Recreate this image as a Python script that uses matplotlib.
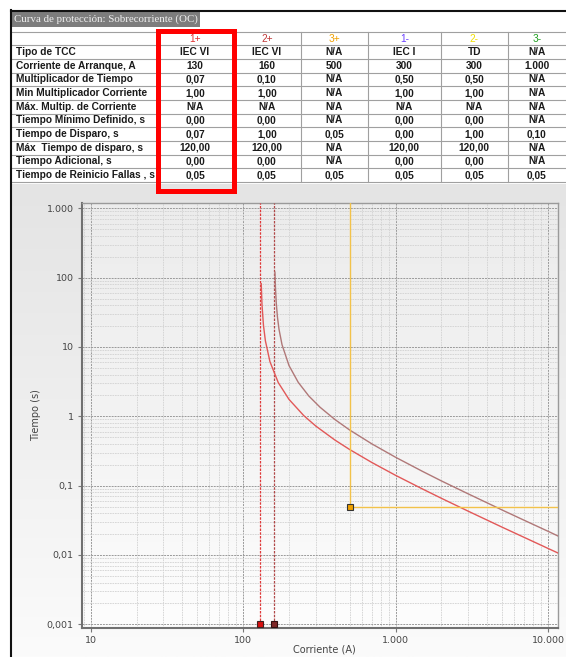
import numpy as np
import matplotlib
matplotlib.use("Agg")
import matplotlib.pyplot as plt
from matplotlib.ticker import LogLocator, FixedLocator, NullFormatter, FixedFormatter
from matplotlib.patches import Rectangle
from matplotlib.colors import LinearSegmentedColormap

# ---------------- data ----------------
col_names = ["1+", "2+", "3+", "1-", "2-", "3-"]
col_colors = ["#e03030", "#c03838", "#f0a000", "#6a40ff", "#f0e000", "#20a020"]
row_labels = ["Tipo de TCC", "Corriente de Arranque, A", "Multiplicador de Tiempo",
              "Min Multiplicador Corriente", "Máx. Multip. de Corriente",
              "Tiempo Mínimo Definido, s", "Tiempo de Disparo, s",
              "Máx  Tiempo de disparo, s", "Tiempo Adicional, s",
              "Tiempo de Reinicio Fallas , s"]
col_1p = ["IEC VI", "130", "0,07", "1,00", "N/A", "0,00", "0,07", "120,00", "0,00", "0,05"]
col_2p = ["IEC VI", "160", "0,10", "1,00", "N/A", "0,00", "1,00", "120,00", "0,00", "0,05"]
col_3p = ["N/A", "500", "N/A", "N/A", "N/A", "N/A", "0,05", "N/A", "N/A", "0,05"]
col_1m = ["IEC I", "300", "0,50", "1,00", "N/A", "0,00", "0,00", "120,00", "0,00", "0,05"]
col_2m = ["TD", "300", "0,50", "1,00", "N/A", "0,00", "1,00", "120,00", "0,00", "0,05"]
col_3m = ["N/A", "1.000", "N/A", "N/A", "N/A", "N/A", "0,10", "N/A", "N/A", "0,05"]
columns = [col_1p, col_2p, col_3p, col_1m, col_2m, col_3m]

# curve 1+ (pickup 130 A)
c1_pickup = 130
c1_I = [131.5, 133, 136, 140, 150, 170, 200, 250, 300, 400, 500, 700, 1000,
        1500, 2000, 3000, 5000, 7000, 10000, 12000]
c1_t = [82, 41, 20.5, 12.3, 6.14, 3.07, 1.755, 1.024, 0.723, 0.455, 0.332, 0.2155,
        0.141, 0.0897, 0.0657, 0.0428, 0.0252, 0.0179, 0.01245, 0.01035]
# curve 2+ (pickup 160 A)
c2_pickup = 160
c2_I = [161.8, 163, 165, 168, 172, 180, 200, 230, 270, 320, 400, 500, 700, 1000,
        1500, 2000, 3000, 5000, 7000, 10000, 12000]
c2_t = [120, 72, 43.2, 27, 18, 10.8, 5.4, 3.09, 1.96, 1.35, 0.9, 0.635, 0.4, 0.257,
        0.161, 0.117, 0.0761, 0.0446, 0.0316, 0.022, 0.0182]
# curve 3+ (definite time)
c3_pickup = 500
c3_time = 0.05

x_ticks = [10, 100, 1000, 10000]
x_ticklabels = ["10", "100", "1.000", "10.000"]
y_ticks = [0.001, 0.01, 0.1, 1, 10, 100, 1000]
y_ticklabels = ["0,001", "0,01", "0,1", "1", "10", "100", "1.000"]

# ---------------- figure ----------------
W, H = 566, 657
fig = plt.figure(figsize=(W / 100, H / 100), dpi=100)
fig.patch.set_facecolor("white")

bg = fig.add_axes([0, 0, 1, 1])
bg.set_xlim(0, W)
bg.set_ylim(H, 0)
bg.axis("off")

# lower panel gradient background
grad = np.linspace(0, 1, 256).reshape(-1, 1)
panel_cmap = LinearSegmentedColormap.from_list("p", ["#e4e4e4", "#efefef", "#fbfbfb"])
bg.imshow(grad, extent=(12, W, H, 184), cmap=panel_cmap, aspect="auto", zorder=0)
bg.set_xlim(0, W)
bg.set_ylim(H, 0)

# borders
bg.plot([11, 11], [10, H], color="#111111", lw=1.5, zorder=5)
bg.plot([11, W], [11, 11], color="#111111", lw=1.5, zorder=5)

# title box
bg.add_patch(Rectangle((12, 12), 188, 15, facecolor="#7d7d7d", edgecolor="none", zorder=3))
bg.text(14, 19.5, "Curva de protección: Sobrecorriente (OC)", fontsize=7.8,
        family="Liberation Serif", color="#f0f0f0", va="center", ha="left", zorder=4)

# table
row_h = 13.65
table_top = 31.7
col_edges = [12, 157, 233, 300.7, 367.7, 441, 507.7, W]
n_rows = len(row_labels) + 1
for i in range(n_rows + 1):
    y = table_top + i * row_h
    bg.plot([12, W], [y, y], color="#a0a0a0", lw=0.8, zorder=2)
y_bottom = table_top + n_rows * row_h
for xe in col_edges[1:-1]:
    bg.plot([xe, xe], [table_top, y_bottom], color="#a0a0a0", lw=0.8, zorder=2)

tfont = dict(family="Liberation Sans", fontsize=7.3, fontweight="bold",
             color="#1a1a1a", va="center")
for j, name in enumerate(col_names):
    cx = (col_edges[j + 1] + col_edges[j + 2]) / 2
    bg.text(cx, table_top + row_h / 2, name, ha="center",
            **{**tfont, "color": col_colors[j], "fontweight": "normal"})
for i, lab in enumerate(row_labels):
    cy = table_top + (i + 1.5) * row_h
    bg.text(16, cy, lab, ha="left", **tfont)
    for j, col in enumerate(columns):
        cx = (col_edges[j + 1] + col_edges[j + 2]) / 2
        bg.text(cx, cy, col[i], ha="center", **tfont)

# red highlight box
bg.add_patch(Rectangle((157.5, 30.5), 76, 160, facecolor="none", edgecolor="#ff0000",
                       lw=3.6, zorder=6))

# ---------------- plot ----------------
L, R, T, B = 82, 558, 203, 628
ax = fig.add_axes([L / W, 1 - B / H, (R - L) / W, (B - T) / H])
ax.set_xscale("log")
ax.set_yscale("log")
ax_grad = LinearSegmentedColormap.from_list("a", ["#ececec", "#f3f3f3", "#fdfdfd"])
ax.imshow(grad, extent=(0, 1, 0, 1), transform=ax.transAxes, cmap=ax_grad,
          aspect="auto", zorder=0)
ax.set_facecolor("#f2f2f2")
ax.set_xlim(8.77, 11640)
ax.set_ylim(0.000885, 1193)

ax.xaxis.set_major_locator(FixedLocator(x_ticks))
ax.xaxis.set_major_formatter(FixedFormatter(x_ticklabels))
ax.yaxis.set_major_locator(FixedLocator(y_ticks))
ax.yaxis.set_major_formatter(FixedFormatter(y_ticklabels))
ax.xaxis.set_minor_locator(LogLocator(base=10, subs=np.arange(2, 10), numticks=20))
ax.yaxis.set_minor_locator(LogLocator(base=10, subs=np.arange(2, 10), numticks=20))
ax.xaxis.set_minor_formatter(NullFormatter())
ax.yaxis.set_minor_formatter(NullFormatter())

ax.grid(which="major", color="#9a9a9a", lw=0.7, ls=(0, (2, 1)), zorder=1)
ax.grid(which="minor", color="#d2d2d2", lw=0.6, ls=(0, (2, 1)), zorder=1)
ax.tick_params(which="major", length=3, width=0.8, color="#777777", labelsize=6.8,
               labelcolor="#444444", pad=3)
ax.tick_params(which="minor", length=0)
for s in ["left", "bottom"]:
    ax.spines[s].set_color("#707070")
    ax.spines[s].set_linewidth(1.5)
for s in ["top", "right"]:
    ax.spines[s].set_color("#9a9a9a")
    ax.spines[s].set_linewidth(1.0)

# pickup lines
ax.axvline(c1_pickup, color="#e03a3a", lw=0.9, ls=(0, (2, 1)), zorder=3)
ax.axvline(c2_pickup, color="#b04848", lw=0.9, ls=(0, (2, 1)), zorder=3)

# curves
ax.plot(c1_I, c1_t, color="#e25858", lw=1.0, zorder=4)
ax.plot(c2_I, c2_t, color="#b07878", lw=1.0, zorder=4)

# definite time element
ax.plot([c3_pickup, c3_pickup, 1e5], [1e5, c3_time, c3_time], color="#f2c24a", lw=1.0, zorder=4)
ax.plot([c3_pickup], [c3_time], marker="s", ms=4.5, mfc="#f0a000", mec="#333333",
        mew=0.8, zorder=6, clip_on=False)

# pickup markers at axis bottom
ax.plot([c1_pickup], [0.001], marker="s", ms=4.5, mfc="#d81010", mec="#402020",
        mew=0.8, zorder=6, clip_on=False)
ax.plot([c2_pickup], [0.001], marker="s", ms=4.5, mfc="#802828", mec="#301010",
        mew=0.8, zorder=6, clip_on=False)

fig.text(324 / W, 1 - 650 / H, "Corriente (A)", fontsize=7, color="#444444",
         ha="center", va="center")
fig.text(36 / W, 1 - 415 / H, "Tiempo (s)", fontsize=7, color="#444444",
         ha="center", va="center", rotation=90)

fig.savefig("out.png", dpi=100)
